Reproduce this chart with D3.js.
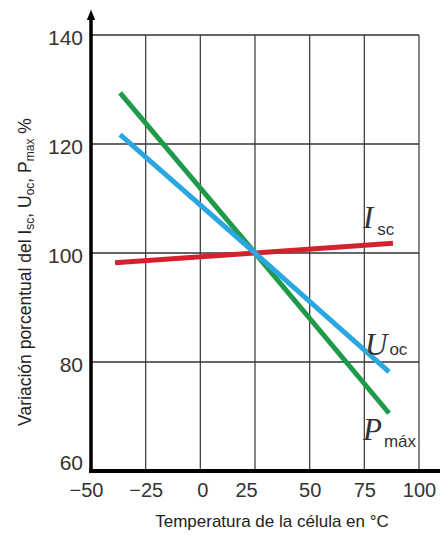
<!DOCTYPE html>
<html>
<head>
<meta charset="utf-8">
<script src="https://cdn.jsdelivr.net/npm/d3@7"></script>
<style>
  body { margin: 0; background: #fff; }
  svg { display: block; }
  .tick text { font-family: "Liberation Sans", Arial, sans-serif; fill: #333; }
  .axisTitle { font-family: "Liberation Sans", Arial, sans-serif; fill: #222; }
  .seriesLabel { font-family: "Liberation Serif", "DejaVu Serif", serif; font-style: italic; fill: #333; }
  .seriesSub { font-family: "Liberation Sans", Arial, sans-serif; font-style: normal; fill: #333; }
</style>
</head>
<body>
<svg id="chart"></svg>
<script>
/* Temperature dependence of a solar cell (% of value at 25 °C) */

const width = 440, height = 535;

// ----- data -----
const xTicks = [-50, -25, 0, 25, 50, 75, 100];
const yTicks = [60, 80, 100, 120, 140];

const tempPmax = [-36.7, 25, 86.3];
const valPmax  = [129.4, 100, 70.6];
const tempUoc  = [-36.7, 25, 86.3];
const valUoc   = [121.7, 100, 78.2];
const tempIsc  = [-39, 25, 88.1];
const valIsc   = [98.2, 100, 101.8];

const seriesNames  = ["Isc", "Pmáx", "Uoc"];
const seriesColors = ["#d5202e", "#1e9a4a", "#2aa7e1"];

// ----- scales -----
const x = d3.scaleLinear().domain([-50, 100]).range([91, 419]);
const y = d3.scaleLinear().domain([60, 140]).range([471, 35]);

const svg = d3.select("#chart")
  .attr("width", width)
  .attr("height", height);

// ----- grid -----
const gridG = svg.append("g");
gridG.selectAll("line.v").data(xTicks.slice(1)).enter().append("line")
  .attr("class", "v")
  .attr("x1", d => x(d)).attr("x2", d => x(d))
  .attr("y1", y(140)).attr("y2", y(60))
  .attr("stroke", "#444").attr("stroke-width", 1.3);
gridG.selectAll("line.h").data(yTicks.slice(1)).enter().append("line")
  .attr("class", "h")
  .attr("x1", x(-50)).attr("x2", x(100))
  .attr("y1", d => y(d)).attr("y2", d => y(d))
  .attr("stroke", "#333").attr("stroke-width", 1.4);

// ----- series lines -----
const series = [
  { name: "Isc",  t: tempIsc,  v: valIsc },
  { name: "Pmáx", t: tempPmax, v: valPmax },
  { name: "Uoc",  t: tempUoc,  v: valUoc }
];
const line = d3.line().x(d => x(d[0])).y(d => y(d[1]));
svg.append("g").selectAll("path").data(series).enter().append("path")
  .attr("d", s => line(s.t.map((t, i) => [t, s.v[i]])))
  .attr("fill", "none")
  .attr("stroke", s => seriesColors[seriesNames.indexOf(s.name)])
  .attr("stroke-width", 5);

// ----- axes -----
const xAxis = svg.append("g")
  .attr("transform", `translate(0,${y(60)})`)
  .call(d3.axisBottom(x).tickValues(xTicks).tickSize(0).tickPadding(12));
xAxis.select(".domain").remove();
xAxis.selectAll(".tick text").style("font-size", "20px")
  .attr("dx", d => d === 0 ? 2 : d === 25 ? -9 : d === -50 ? -5 : 0);

const yAxis = svg.append("g")
  .attr("transform", `translate(${x(-50)},0)`)
  .call(d3.axisLeft(y).tickValues(yTicks).tickSize(0).tickPadding(8));
yAxis.select(".domain").remove();
yAxis.selectAll(".tick text").style("font-size", "21px")
  .attr("dy", d => d === 60 ? "-0.05em" : "0.45em");

// thick axis lines
const defs = svg.append("defs");
defs.append("marker")
  .attr("id", "arrowUp")
  .attr("viewBox", "0 -4 10 8")
  .attr("markerWidth", 3).attr("markerHeight", 3)
  .attr("refX", 2).attr("refY", 0)
  .attr("orient", "auto")
  .append("path").attr("d", "M0,-4L10,0L0,4Z").attr("fill", "#000");

svg.append("line")
  .attr("x1", x(-50)).attr("x2", x(-50))
  .attr("y1", y(60) + 2).attr("y2", 18)
  .attr("stroke", "#000").attr("stroke-width", 3.5)
  .attr("marker-end", "url(#arrowUp)");
svg.append("line")
  .attr("x1", x(-50) - 1.75).attr("x2", width)
  .attr("y1", y(60)).attr("y2", y(60))
  .attr("stroke", "#000").attr("stroke-width", 4);

// ----- series labels -----
function seriesLabel(main, sub, px, py, subDx, subDy) {
  const t = svg.append("text").attr("class", "seriesLabel")
    .attr("x", px).attr("y", py).style("font-size", "31px");
  t.append("tspan").text(main);
  t.append("tspan").attr("class", "seriesSub")
    .attr("dx", subDx).attr("dy", subDy)
    .style("font-size", "17px").text(sub);
}
seriesLabel("I", "sc", 363, 228, 4, 7);
seriesLabel("U", "oc", 365, 355, 2, 0);
seriesLabel("P", "máx", 363, 440, 2, 7);

// ----- axis titles -----
svg.append("text").attr("class", "axisTitle")
  .attr("x", 272).attr("y", 527)
  .attr("text-anchor", "middle")
  .style("font-size", "17px")
  .text("Temperatura de la célula en °C");

const yt = svg.append("text").attr("class", "axisTitle")
  .attr("transform", "translate(31,272) rotate(-90)")
  .attr("text-anchor", "middle")
  .style("font-size", "17.5px");
yt.append("tspan").text("Variación porcentual del I");
yt.append("tspan").attr("dy", 3).style("font-size", "12px").text("sc");
yt.append("tspan").attr("dy", -3).text(", U");
yt.append("tspan").attr("dy", 3).style("font-size", "12px").text("oc");
yt.append("tspan").attr("dy", -3).text(", P");
yt.append("tspan").attr("dy", 3).style("font-size", "12px").text("max");
yt.append("tspan").attr("dy", -3).text(" %");
</script>
</body>
</html>
